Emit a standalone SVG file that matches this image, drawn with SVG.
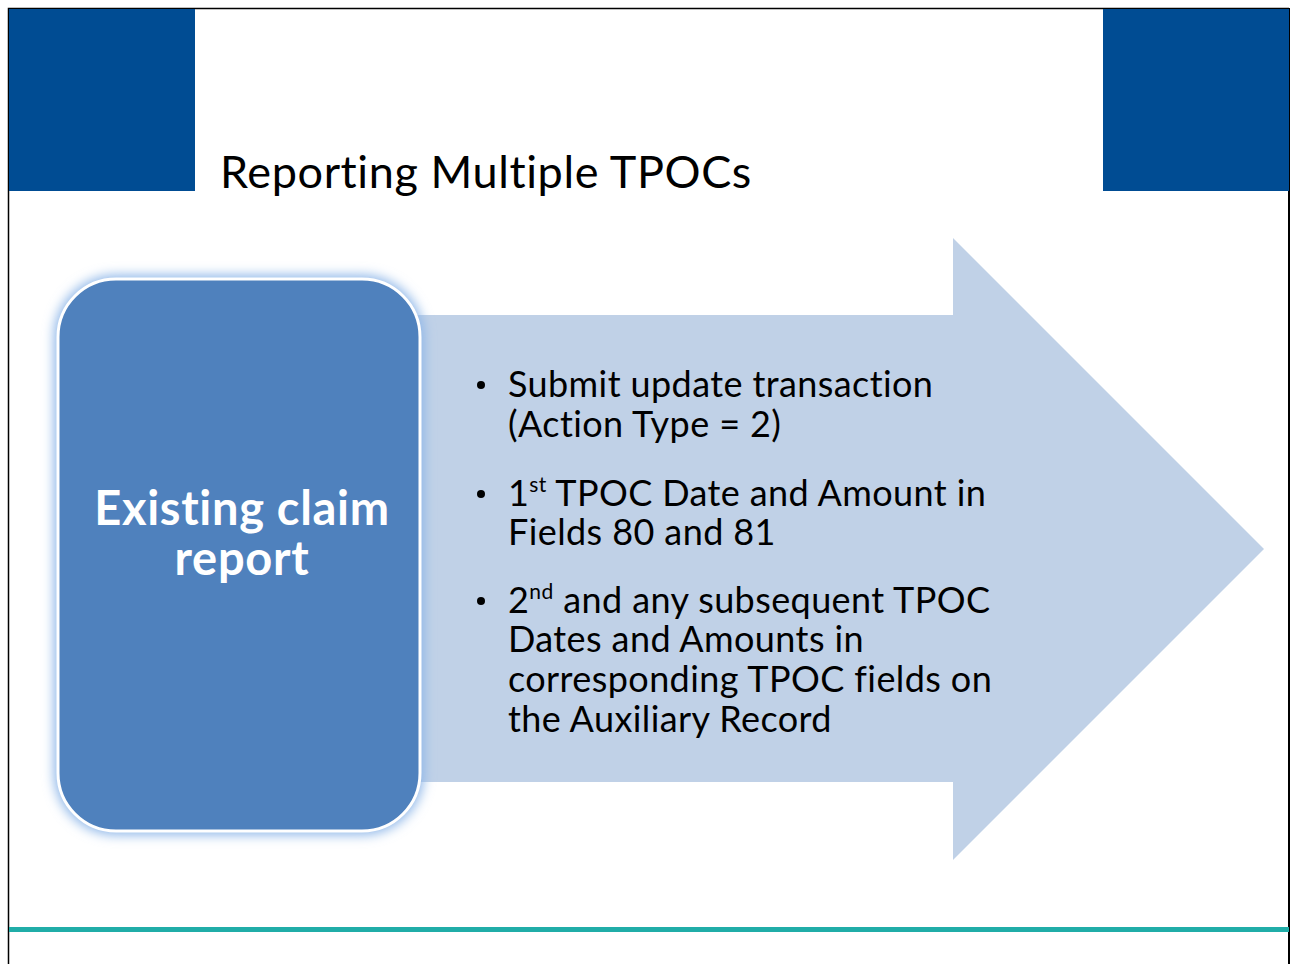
<svg xmlns="http://www.w3.org/2000/svg" width="1290" height="964" viewBox="0 0 1290 964">
<defs>
<style>
.t{font-family:Lato,"Open Sans","Liberation Sans",sans-serif;fill:#000}
.b{font-size:36px;letter-spacing:0.4px}
.w{font-family:Lato,"Open Sans","Liberation Sans",sans-serif;fill:#fff;font-weight:bold;font-size:47px;letter-spacing:0.7px}
</style>
<filter id="glow" x="-20%" y="-20%" width="140%" height="140%">
<feGaussianBlur stdDeviation="6"/>
</filter>
</defs>
<rect x="0" y="0" width="1290" height="964" fill="#fff"/>
<path d="M8.5 964 V8.5 H1289" fill="none" stroke="#000" stroke-width="1.5"/>
<line x1="1289" y1="8" x2="1289" y2="964" stroke="#000" stroke-width="2"/>
<rect x="9" y="9" width="186" height="182" fill="#004C93"/>
<rect x="1103" y="9" width="186" height="182" fill="#004C93"/>
<rect x="9" y="927" width="1280" height="5" fill="#20ADA8"/>
<text class="t" x="220" y="188" font-size="45" letter-spacing="0.6">Reporting Multiple TPOCs</text>
<g id="arrow">
<polygon points="400,315 953,315 953,238 1264,549 953,860 953,782 400,782" fill="#C0D1E7"/>
<g class="t b">
<circle cx="481" cy="385" r="4" fill="#000"/>
<text x="508" y="397">Submit update transaction</text>
<text x="508" y="437">(Action Type = 2)</text>
<circle cx="481" cy="494" r="4" fill="#000"/>
<text x="508" y="506">1<tspan font-size="21" dy="-14">st</tspan><tspan dy="14"> TPOC Date and Amount in</tspan></text>
<text x="508" y="545">Fields 80 and 81</text>
<circle cx="481" cy="601" r="4" fill="#000"/>
<text x="508" y="613">2<tspan font-size="21" dy="-14">nd</tspan><tspan dy="14"> and any subsequent TPOC</tspan></text>
<text x="508" y="652">Dates and Amounts in</text>
<text x="508" y="692">corresponding TPOC fields on</text>
<text x="508" y="732">the Auxiliary Record</text>
</g>
</g>
<g id="existing">
<rect x="54" y="275" width="370" height="560" rx="62" fill="#8DB6E8" filter="url(#glow)"/>
<rect x="58" y="279" width="362" height="552" rx="58" fill="#4F81BD" stroke="#fff" stroke-width="3"/>
<text class="w" x="242" y="525" text-anchor="middle">Existing claim</text>
<text class="w" x="242" y="575" text-anchor="middle">report</text>
</g>
</svg>
